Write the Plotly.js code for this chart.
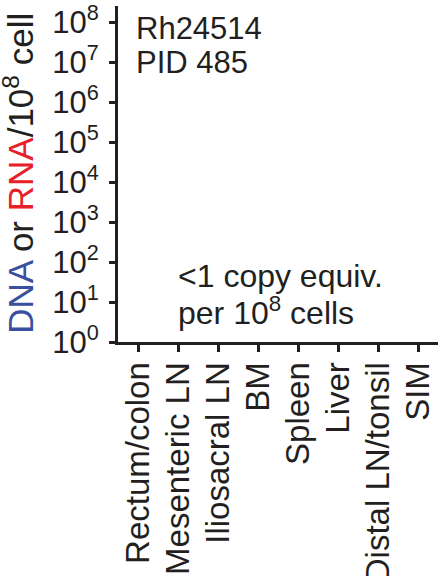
<!DOCTYPE html>
<html>
<head>
<meta charset="utf-8">
<script src="https://cdn.plot.ly/plotly-3.0.1.min.js"></script>
<style>html,body{margin:0;padding:0;background:#fff;}#chart{width:442px;height:576px;}</style>
</head>
<body>
<div id="chart"></div>
<script>
// Tissues sampled (x categories)
var categories = ["Rectum/colon", "Mesenteric LN", "Iliosacral LN", "BM", "Spleen", "Liver", "Distal LN/tonsil", "SIM"];
// Measured values: all below detection (<1 copy equiv. per 10^8 cells) -> no points drawn
var dnaValues = [null, null, null, null, null, null, null, null];
var rnaValues = [null, null, null, null, null, null, null, null];
// Y tick values and labels
var yTickVals = [1, 10, 100, 1000, 10000, 100000, 1000000, 10000000, 100000000];
var yTickText = ["10<sup>0</sup>", "10<sup>1</sup>", "10<sup>2</sup>", "10<sup>3</sup>", "10<sup>4</sup>", "10<sup>5</sup>", "10<sup>6</sup>", "10<sup>7</sup>", "10<sup>8</sup>"];

var ink = "#231f20";
var fontFam = "Liberation Sans, Arial, Helvetica, sans-serif";

var traces = [
  {x: categories, y: dnaValues, type: "scatter", mode: "markers", marker: {color: "#3a4fa0", size: 10}, showlegend: false, hoverinfo: "skip"},
  {x: categories, y: rnaValues, type: "scatter", mode: "markers", marker: {color: "#e8202a", size: 10}, showlegend: false, hoverinfo: "skip"}
];

var layout = {
  width: 442, height: 576,
  margin: {l: 118, r: 4, t: 6, b: 234, pad: 0},
  paper_bgcolor: "#fff", plot_bgcolor: "#fff",
  font: {family: fontFam, color: ink},
  showlegend: false,
  xaxis: {
    type: "category", categoryorder: "array", categoryarray: categories,
    tickvals: categories, ticktext: categories,
    range: [-0.5, 7.5], fixedrange: true,
    showline: true, linecolor: ink, linewidth: 3, mirror: false,
    showgrid: false, zeroline: false,
    ticks: "outside", ticklen: 7, tickwidth: 3, tickcolor: ink,
    ticklabelstandoff: -3, ticklabeloverflow: "allow",
    tickangle: -90, tickfont: {size: 33, family: fontFam, color: ink}
  },
  yaxis: {
    type: "log", range: [0, 8.4], fixedrange: true,
    tickvals: yTickVals, ticktext: yTickText,
    showline: true, linecolor: ink, linewidth: 3,
    showgrid: false, zeroline: false,
    ticks: "outside", ticklen: 6, tickwidth: 3, tickcolor: ink,
    ticklabelstandoff: 4, ticklabeloverflow: "allow",
    tickfont: {size: 31, family: fontFam, color: ink}
  },
  annotations: [
    {xref: "paper", yref: "paper", x: -0.31, y: 0.503, xanchor: "center", yanchor: "middle", textangle: -90, showarrow: false,
     text: '<span style="color:#3a4fa0">DNA</span> or <span style="color:#e8202a">RNA</span>/10<sup>8</sup> cell',
     font: {size: 35, family: fontFam, color: ink}},
    {xref: "paper", yref: "paper", x: 0.05, y: 0.932, xanchor: "left", yanchor: "middle", showarrow: false,
     text: "Rh24514", font: {size: 31, family: fontFam, color: ink}},
    {xref: "paper", yref: "paper", x: 0.05, y: 0.833, xanchor: "left", yanchor: "middle", showarrow: false,
     text: "PID 485", font: {size: 31, family: fontFam, color: ink}},
    {xref: "paper", yref: "paper", x: 0.18, y: 0.197, xanchor: "left", yanchor: "middle", showarrow: false,
     text: "&lt;1 copy equiv.", font: {size: 32, family: fontFam, color: ink}},
    {xref: "paper", yref: "paper", x: 0.18, y: 0.093, xanchor: "left", yanchor: "middle", showarrow: false,
     text: "per 10<sup>8</sup> cells", font: {size: 32, family: fontFam, color: ink}}
  ]
};

Plotly.newPlot("chart", traces, layout, {displayModeBar: false, staticPlot: true});
</script>
</body>
</html>
